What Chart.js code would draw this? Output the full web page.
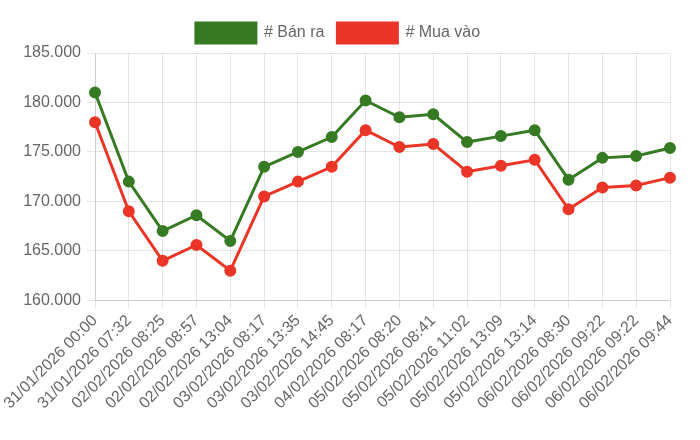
<!DOCTYPE html>
<html>
<head>
<meta charset="utf-8">
<script src="https://cdn.jsdelivr.net/npm/chart.js@4/dist/chart.umd.min.js"></script>
<style>
  html, body { margin: 0; padding: 0; background: #fff; }
  #wrap { width: 700px; height: 440px; }
</style>
</head>
<body>
<div id="wrap"><canvas id="gia"></canvas></div>
<script>
const labels = ['31/01/2026 00:00', '31/01/2026 07:32', '02/02/2026 08:25', '02/02/2026 08:57',
    '02/02/2026 13:04', '03/02/2026 08:17', '03/02/2026 13:35', '03/02/2026 14:45',
    '04/02/2026 08:17', '05/02/2026 08:20', '05/02/2026 08:41', '05/02/2026 11:02',
    '05/02/2026 13:09', '05/02/2026 13:14', '06/02/2026 08:30', '06/02/2026 09:22',
    '06/02/2026 09:22', '06/02/2026 09:44'];
const banRa = [181000, 172000, 167000, 168600, 166000, 173500, 175000, 176500, 180200,
    178500, 178800, 176000, 176600, 177200, 172200, 174400, 174600, 175400];
const muaVao = [178000, 169000, 164000, 165600, 163000, 170500, 172000, 173500, 177200,
    175500, 175800, 173000, 173600, 174200, 169200, 171400, 171600, 172400];

Chart.defaults.font.family = '"Liberation Sans", Arial, sans-serif';
Chart.defaults.font.size = 16;
Chart.defaults.color = '#666';

const ctx = document.getElementById('gia').getContext('2d');
const giaChart = new Chart(ctx, {
    type: 'line',
    data: {
        labels: labels,
        datasets: [
            {
                label: '# Bán ra',
                data: banRa,
                borderColor: '#367b23',
                backgroundColor: '#367b23',
                borderWidth: 3,
                pointRadius: 4.5,
                fill: false,
            },
            {
                label: '# Mua vào',
                data: muaVao,
                borderColor: '#ea3527',
                backgroundColor: '#ea3527',
                borderWidth: 3,
                pointRadius: 4.5,
                fill: false,
            },
        ],
    },
    options: {
        responsive: true,
        maintainAspectRatio: false,
        animation: false,
        layout: { padding: { left: 6, right: 30, top: 10, bottom: 24 } },
        plugins: {
            legend: {
                labels: { boxWidth: 60, boxHeight: 20, padding: 13 },
            },
        },
        scales: {
            y: {
                min: 160000,
                max: 185000,
                afterFit: s => { s.width = 89; },
                ticks: {
                    stepSize: 5000,
                    padding: 6,
                    callback: v => v.toLocaleString('de-DE'),
                },
            },
            x: {
                ticks: { minRotation: 45, maxRotation: 45, autoSkip: false },
            },
        },
    },
});
</script>
</body>
</html>
